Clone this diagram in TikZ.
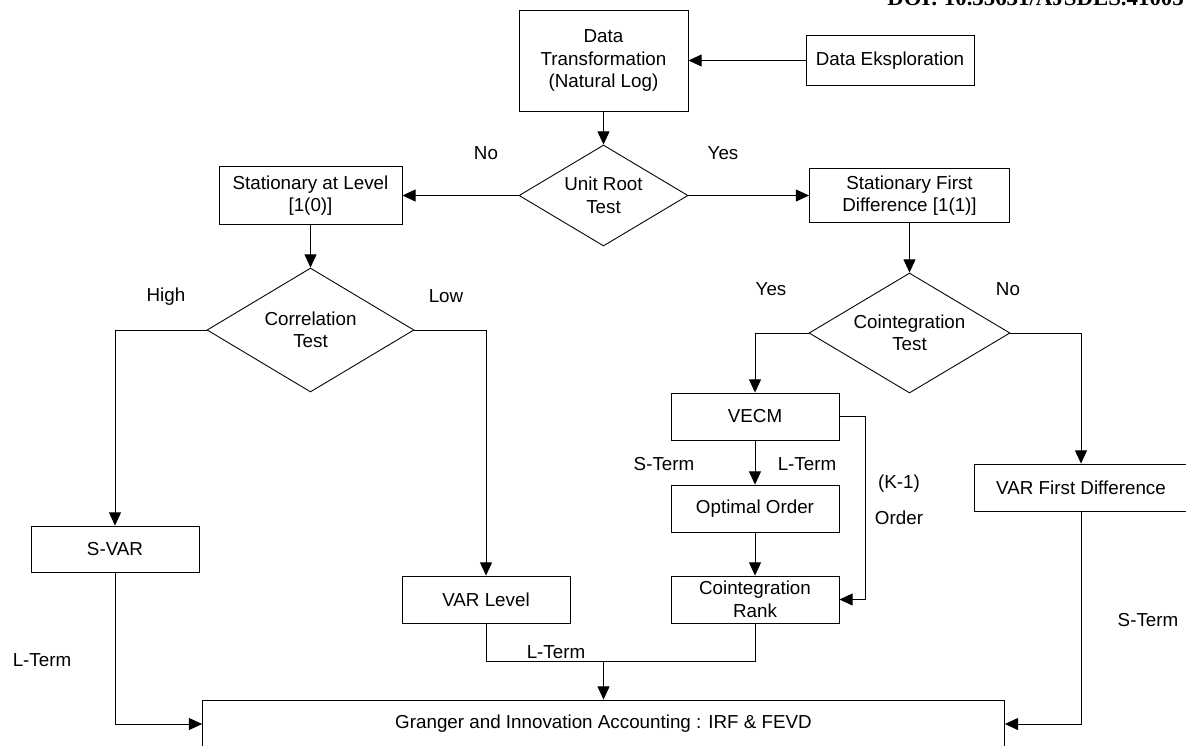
\documentclass[tikz,border=0pt]{standalone}
\usepackage{fontspec}
\setmainfont{Liberation Sans}
\newfontfamily\doifont{Liberation Serif}
\usetikzlibrary{arrows.meta}
\usetikzlibrary{shapes.geometric}

\begin{document}
\begin{tikzpicture}[x=0.02cm,y=-0.02cm,
    font=\fontsize{10.7}{12.8}\selectfont,
    >={Triangle[length=7.5pt,width=6.8pt]},
    line width=0.5pt,
    every node/.style={inner sep=0pt,align=center},
    box/.style={shape=rectangle,draw=black},
    test/.style={shape=diamond,draw=black,aspect=1.67}]
    \useasboundingbox (0,0) rectangle (1186,745);
    \clip (0,0) rectangle (1186,745);
    \node[anchor=base west,font=\doifont\bfseries\fontsize{13}{15}\selectfont] (doi) at (887,5) {DOI: 10.35631/AJSDES.41003};

    \node[box,minimum width=3.38cm,minimum height=2.02cm] (A) at (603.5,60.5) {Data\\Transformation\\(Natural Log)};
    \node[box,minimum width=3.36cm,minimum height=1cm] (B) at (890,60.5) {Data Eksploration};
    \node[test,minimum width=3.38cm,minimum height=2.02cm] (C) at (603.5,195.5) {Unit Root\\Test};
    \node[box,minimum width=3.66cm,minimum height=1.16cm] (D) at (310.5,195.5) {Stationary at Level\\{[1(0)]}};
    \node[box,minimum width=4cm,minimum height=1.08cm] (E) at (909.5,195.5) {Stationary First\\Difference [1(1)]};
    \node[test,minimum width=4.14cm,minimum height=2.48cm] (F) at (310.5,330) {Correlation\\Test};
    \node[test,minimum width=4.02cm,minimum height=2.4cm] (G) at (909.5,333) {Cointegration\\Test};
    \node[box,minimum width=3.36cm,minimum height=0.92cm] (H) at (115,549) {S-VAR};
    \node[box,minimum width=3.36cm,minimum height=0.94cm] (I) at (486,599.5) {VAR Level};
    \node[box,minimum width=3.36cm,minimum height=0.94cm] (J) at (755,416.5) {VECM};
    \node[box,minimum width=3.36cm,minimum height=0.94cm] (K) at (755,508.5) {Optimal Order};
    \node[box,minimum width=3.36cm,minimum height=0.94cm] (L) at (755,599.5) {Cointegration\\Rank};
    \node[box,minimum width=4.28cm,minimum height=0.94cm] (M) at (1081,487.5) {VAR First Difference};
    \node[box,minimum width=16.04cm,minimum height=0.96cm] (N) at (603.5,724) {Granger and Innovation Accounting : IRF \& FEVD};
    \coordinate (O) at (603.5,661);

    \node (no1) at (486,153) {No};
    \node (yes1) at (723,153) {Yes};
    \node (high) at (166,297) {High};
    \node (low) at (446,296) {Low};
    \node (yes2) at (771,289) {Yes};
    \node (no2) at (1008,289) {No};
    \node (st1) at (664,464) {S-Term};
    \node (lt1) at (807,464) {L-Term};
    \node (k1) at (899,484) {(K-1)};
    \node (ord) at (899,518) {Order};
    \node (lt2) at (42,660) {L-Term};
    \node (lt3) at (556,652) {L-Term};
    \node (st2) at (1148,620) {S-Term};

    \path [->] (B) edge (A);
    \path [->] (A) edge (C);
    \path [->] (C) edge (D);
    \path [->] (C) edge (E);
    \path [->] (D) edge (F);
    \path [->] (E) edge (G);
    \draw [->] (F.west) -| (H.north);
    \draw [->] (F.east) -| (I.north);
    \draw [->] (G.west) -| (J.north);
    \draw [->] (G.east) -| (M.north);
    \path [->] (J) edge (K);
    \path [->] (K) edge (L);
    \draw [->] (J.east) -- ++(26,0) |- (L.east);
    \draw (I.south) |- (O) -| (L.south);
    \path [->] (O) edge (N);
    \draw [->] (H.south) |- (N.west);
    \draw [->] (M.south) |- (N.east);
\end{tikzpicture}
\end{document}
